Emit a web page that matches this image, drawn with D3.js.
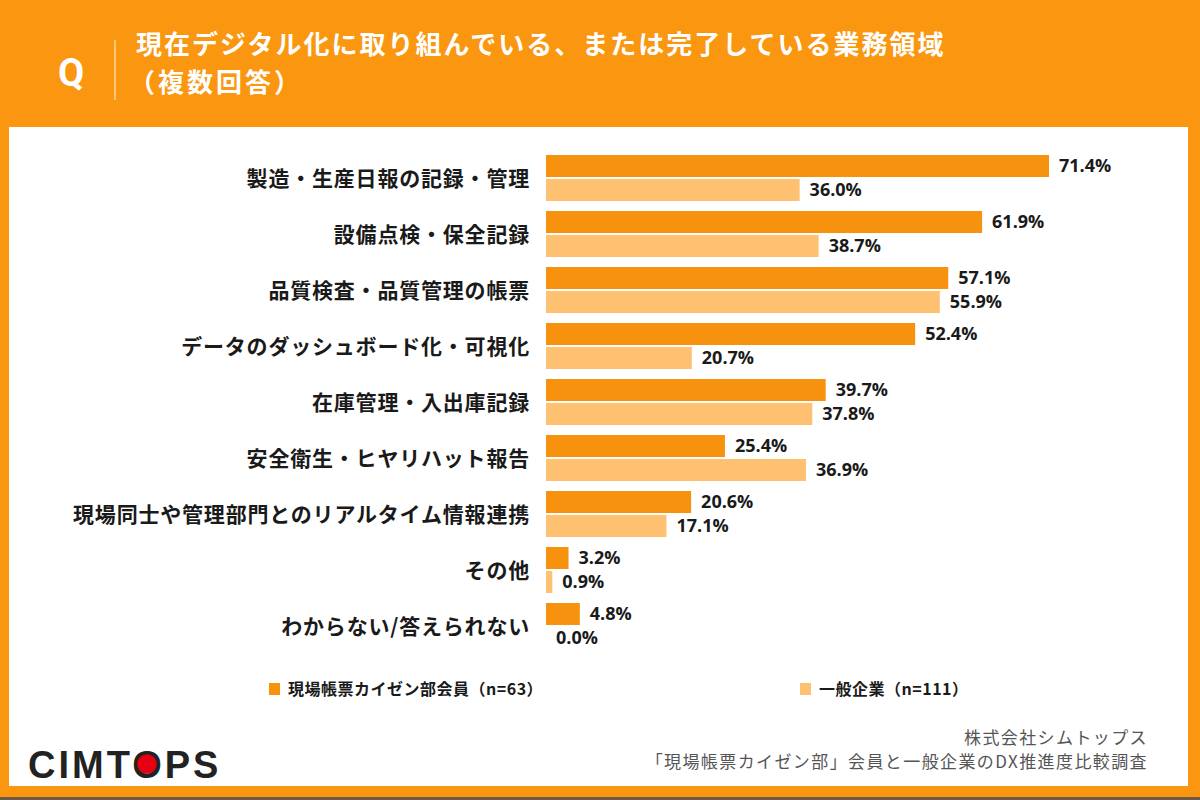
<!DOCTYPE html>
<html>
<head>
<meta charset="utf-8">
<script src="https://cdn.jsdelivr.net/npm/d3@7"></script>
<style>
  body { margin: 0; background: #fff; }
  svg { display: block; font-family: "Noto Sans CJK JP", "Noto Sans", sans-serif; }
</style>
</head>
<body>
<div class="chart"></div>
<script>
const categories = [
  '製造・生産日報の記録・管理',
  '設備点検・保全記録',
  '品質検査・品質管理の帳票',
  'データのダッシュボード化・可視化',
  '在庫管理・入出庫記録',
  '安全衛生・ヒヤリハット報告',
  '現場同士や管理部門とのリアルタイム情報連携',
  'その他',
  'わからない/答えられない'
];
const members = [71.4, 61.9, 57.1, 52.4, 39.7, 25.4, 20.6, 3.2, 4.8];
const general = [36.0, 38.7, 55.9, 20.7, 37.8, 36.9, 17.1, 0.9, 0.0];
const seriesNames = ['現場帳票カイゼン部会員（n=63）', '一般企業（n=111）'];
const titleLines = ['現在デジタル化に取り組んでいる、または完了している業務領域', '（複数回答）'];
const sourceLines = ['株式会社シムトップス', '「現場帳票カイゼン部」会員と一般企業のDX推進度比較調査'];

const W = 1200, H = 800;
const orange = '#FA960F';
const dark = '#F7920F';
const light = '#FDC171';

const svg = d3.select('.chart').append('svg')
  .attr('width', W)
  .attr('height', H);

// frame
svg.append('rect').attr('width', W).attr('height', H).attr('fill', orange);
svg.append('rect')
  .attr('x', 9).attr('y', 127)
  .attr('width', 1179).attr('height', 659)
  .attr('fill', '#fff');
svg.append('rect').attr('x', 0).attr('y', 797).attr('width', W).attr('height', 3).attr('fill', '#6b5a48');

// header
svg.append('text')
  .attr('x', 71).attr('y', 86)
  .attr('text-anchor', 'middle')
  .attr('fill', '#fff')
  .attr('font-size', 38)
  .attr('font-weight', 700)
  .attr('font-family', 'Roboto, sans-serif')
  .text('Q');
svg.append('line')
  .attr('x1', 115).attr('x2', 115)
  .attr('y1', 40).attr('y2', 100)
  .attr('stroke', '#FDD79A')
  .attr('stroke-width', 1.5);
svg.append('g').selectAll('text')
  .data(titleLines)
  .join('text')
  .attr('x', (d, i) => i === 0 ? 136 : 129)
  .attr('y', (d, i) => 45 + i * 38)
  .attr('dy', '0.36em')
  .attr('fill', '#fff')
  .attr('font-size', 26)
  .attr('font-weight', 700)
  .attr('letter-spacing', (d, i) => i === 0 ? 2 : 3)
  .text(d => d);

// scales
const x = d3.scaleLinear().domain([0, 71.4]).range([546, 1049]);
const y = d3.scaleBand().domain(categories).range([153, 657]).paddingInner(0);
const barH = 22;

const rows = svg.append('g').selectAll('g')
  .data(categories)
  .join('g')
  .attr('transform', d => `translate(0,${y(d)})`);

rows.append('text')
  .attr('x', 530)
  .attr('y', 25)
  .attr('dy', '0.36em')
  .attr('text-anchor', 'end')
  .attr('font-size', 21)
  .attr('font-weight', 700)
  .attr('letter-spacing', 0.8)
  .attr('fill', '#1a1a1a')
  .text(d => d);

rows.append('rect')
  .attr('x', x(0))
  .attr('y', 2)
  .attr('width', (d, i) => x(members[i]) - x(0))
  .attr('height', barH)
  .attr('fill', dark);

rows.append('rect')
  .attr('x', x(0))
  .attr('y', 2 + barH + 2)
  .attr('width', (d, i) => x(general[i]) - x(0))
  .attr('height', barH)
  .attr('fill', light);

rows.append('text')
  .attr('x', (d, i) => x(members[i]) + 10)
  .attr('y', 2 + barH / 2)
  .attr('dy', '0.36em')
  .attr('font-size', 18)
  .attr('font-weight', 700)
  .attr('font-family', '"Open Sans", sans-serif')
  .attr('fill', '#1a1a1a')
  .text((d, i) => members[i].toFixed(1) + '%');

rows.append('text')
  .attr('x', (d, i) => x(general[i]) + 10)
  .attr('y', 4 + barH * 1.5)
  .attr('dy', '0.36em')
  .attr('font-size', 18)
  .attr('font-weight', 700)
  .attr('font-family', '"Open Sans", sans-serif')
  .attr('fill', '#1a1a1a')
  .text((d, i) => general[i].toFixed(1) + '%');

// legend
const legend = svg.append('g').selectAll('g')
  .data(seriesNames)
  .join('g')
  .attr('transform', (d, i) => `translate(${i === 0 ? 269 : 800},683)`);
legend.append('rect')
  .attr('width', 11).attr('height', 12)
  .attr('fill', (d, i) => i === 0 ? dark : light);
legend.append('text')
  .attr('x', 19).attr('y', 6)
  .attr('dy', '0.36em')
  .attr('font-size', 16)
  .attr('font-weight', 700)
  .attr('letter-spacing', 0.5)
  .attr('fill', '#1a1a1a')
  .text(d => d);

// source
svg.append('g').selectAll('text')
  .data(sourceLines)
  .join('text')
  .attr('x', 1148)
  .attr('y', (d, i) => 744 + i * 24)
  .attr('text-anchor', 'end')
  .attr('font-size', 17)
  .attr('letter-spacing', 1.4)
  .attr('fill', '#555')
  .text(d => d);

// logo
const logo = svg.append('text')
  .attr('x', 28).attr('y', 778)
  .attr('font-size', 38)
  .attr('font-weight', 700)
  .attr('letter-spacing', 3)
  .attr('font-family', '"Liberation Sans", sans-serif')
  .attr('fill', '#222')
  .text('CIMTOPS');
const node = logo.node();
const ox = node.getStartPositionOfChar(4).x;
const ow = node.getEndPositionOfChar(4).x - ox - 3;
svg.append('circle')
  .attr('cx', ox + ow / 2)
  .attr('cy', 764)
  .attr('r', ow * 0.33)
  .attr('fill', '#E60012');
</script>
</body>
</html>
